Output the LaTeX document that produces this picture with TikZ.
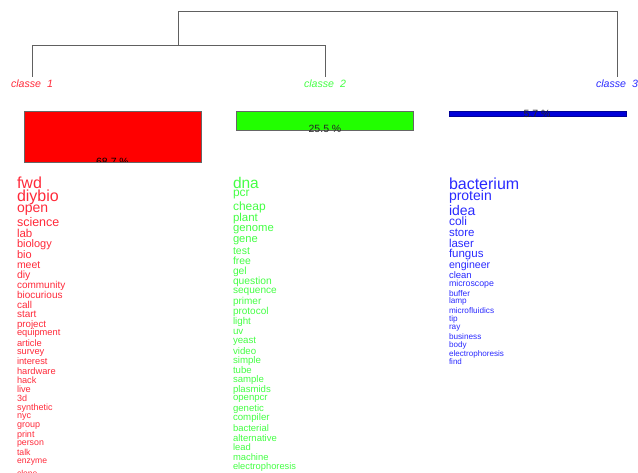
\documentclass[tikz,border=0pt]{standalone}
\usepackage{fontspec}
\setmainfont{Liberation Sans}
\definecolor{redtxt}{HTML}{FF2A3A}
\definecolor{greentxt}{HTML}{44FF44}
\definecolor{bluetxt}{HTML}{2A2AFF}
\definecolor{redbox}{HTML}{FF0000}
\definecolor{greenbox}{HTML}{22FF00}
\definecolor{bluebox}{HTML}{0000D8}
\definecolor{treecol}{HTML}{606060}
\tikzset{
  tree/.style={draw=treecol, line width=0.9pt},
  word/.style={anchor=base west, inner sep=0pt, outer sep=0pt},
  classlab/.style={anchor=center, inner sep=0pt, font=\fontsize{10.6}{10.6}\selectfont\itshape},
  pct/.style={anchor=center, inner sep=0pt, text=black!85, font=\fontsize{10.5}{10.5}\selectfont},
  bar/.style={draw=black!60, line width=0.5pt}
}
\begin{document}
\begin{tikzpicture}[x=1pt,y=-1pt]
\useasboundingbox (0,0) rectangle (638,473);
\clip (0,0) rectangle (638,473);
% dendrogram
\coordinate (t1) at (178,11);
\coordinate (t2) at (617,11);
\coordinate (c3) at (617,77);
\coordinate (m1) at (178,45);
\coordinate (l1) at (32,45);
\coordinate (l2) at (325,45);
\coordinate (c1) at (32,77);
\coordinate (c2) at (325,77);
\draw[tree] (m1) -- (t1) -- (t2) -- (c3);
\draw[tree] (c1) -- (l1) -- (l2) -- (c2);
% class labels
\node[classlab, text=redtxt] (k1) at (32,83.5) {classe\ \ 1};
\node[classlab, text=greentxt] (k2) at (325,83.5) {classe\ \ 2};
\node[classlab, text=bluetxt] (k3) at (617,83.5) {classe\ \ 3};
% bars
\draw[bar, fill=redbox] (24,111) rectangle (201,162);
\draw[bar, fill=greenbox] (236,111) rectangle (413,130);
\draw[bar, draw=bluebox!70!black, fill=bluebox] (449,111) rectangle (626,116);
\begin{scope}
\clip (24,100) rectangle (201,162);
\node[pct, text=black] (p1) at (112.5,162) {68.7 \%};
\end{scope}
\node[pct] (p2) at (325,129) {25.5 \%};
\node[pct] (p3) at (537,114) {5.7 \%};
% class 1 words
\foreach \w/\s/\y [count=\i] in {
fwd/16/189, diybio/16/202, open/14/213, science/12.5/227, lab/11.5/237.5,
biology/11/247.5, bio/11/259, meet/10.5/268.7, diy/10.5/278.3, community/10/288.7,
biocurious/10/298.7, call/10/309, start/10/317.8, project/9.7/327.3, equipment/9.3/336,
article/9.3/346.3, survey/9.3/354.7, interest/9.3/364.7, hardware/9.3/374.3, hack/9.2/384,
live/9.2/392.7, 3d/9/401.7, synthetic/9/410.3, nyc/9/418.3, group/9/428,
print/9/437.3, person/8.8/445.3, talk/8.7/455.7, enzyme/8.6/464, clone/8.5/476}
{\node[word, text=redtxt, font=\fontsize{\s}{\s}\selectfont] (r\i) at (17,\y) {\w};}
% class 2 words
\foreach \w/\s/\y [count=\i] in {
dna/15.5/189, pcr/12/197, cheap/12/210.7, plant/11.5/222, genome/11.3/232,
gene/11.2/242.7, test/10.5/254.7, free/10.4/265, gel/10.3/274.7, question/10.3/284.7,
sequence/10.1/293.3, primer/10/304.3, protocol/10/314.5, light/9.8/324.3, uv/9.8/334.7,
yeast/9.7/343.7, video/9.7/354.3, simple/9.7/363, tube/9.6/373.7, sample/9.6/382.3,
plasmids/9.6/392, openpcr/9.6/401, genetic/9.6/411.3, compiler/9.7/420.7, bacterial/9.5/431.3,
alternative/9.5/441.3, lead/9.4/450.7, machine/9.4/460.3, electrophoresis/9.3/469}
{\node[word, text=greentxt, font=\fontsize{\s}{\s}\selectfont] (g\i) at (233,\y) {\w};}
% class 3 words
\foreach \w/\s/\y [count=\i] in {
bacterium/16/189.3, protein/14/201, idea/14/215.3, coli/12/226, store/11.5/236.7,
laser/11.5/248, fungus/11.5/257.3, engineer/10.6/268.7, clean/9.5/279, microscope/8.8/287,
buffer/8.3/296.7, lamp/8.2/304, microfluidics/8.2/313.7, tip/8.2/321.3, ray/8.2/329.3,
business/8.2/339.7, body/8.1/347.3, electrophoresis/8.1/356, find/8/364.7}
{\node[word, text=bluetxt, font=\fontsize{\s}{\s}\selectfont] (b\i) at (449,\y) {\w};}
\end{tikzpicture}
\end{document}
